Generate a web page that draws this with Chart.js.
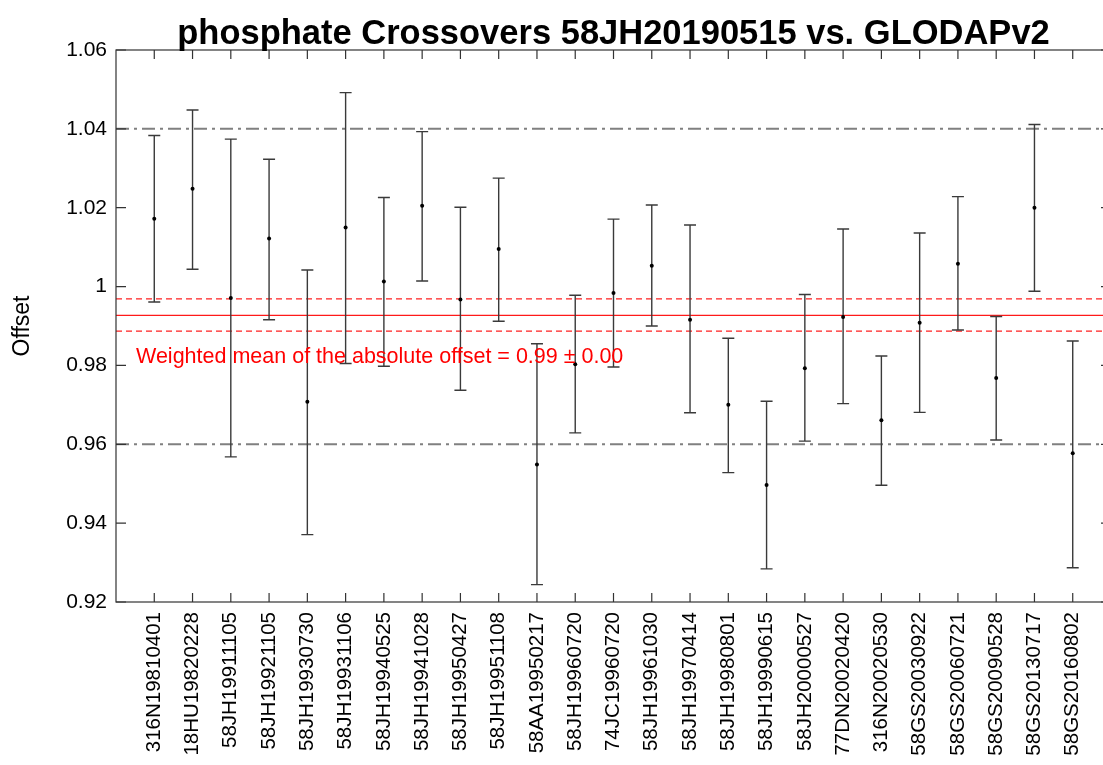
<!DOCTYPE html>
<html>
<head>
<meta charset="utf-8">
<script src="https://cdn.jsdelivr.net/npm/chart.js@4/dist/chart.umd.min.js"></script>
<style>
    html, body { margin: 0; padding: 0; background: #fff; overflow: hidden; }
    #wrap { width: 1115px; height: 765px; position: relative; }
</style>
</head>
<body>
<div id="wrap"><canvas id="crossover-chart"></canvas></div>
<script>
// cruise expocodes along the x axis
const cruises = [
    '316N19810401', '18HU19820228', '58JH19911105', '58JH19921105', '58JH19930730',
    '58JH19931106', '58JH19940525', '58JH19941028', '58JH19950427', '58JH19951108',
    '58AA19950217', '58JH19960720', '74JC19960720', '58JH19961030', '58JH19970414',
    '58JH19980801', '58JH19990615', '58JH20000527', '77DN20020420', '316N20020530',
    '58GS20030922', '58GS20060721', '58GS20090528', '58GS20130717', '58GS20160802'
];
// crossover offsets and the error bar ends
const offsets = [
    1.0172, 1.0248, 0.9971, 1.0122, 0.9708, 1.0150, 1.0013, 1.0205, 0.9967, 1.0095,
    0.9549, 0.9803, 0.9984, 1.0053, 0.9916, 0.9700, 0.9497, 0.9793, 0.9923, 0.9661,
    0.9908, 1.0058, 0.9768, 1.0200, 0.9577
];
const upper = [
    1.0383, 1.0448, 1.0374, 1.0323, 1.0042, 1.0492, 1.0226, 1.0393, 1.0201, 1.0275,
    0.9855, 0.9978, 1.0171, 1.0207, 1.0156, 0.9869, 0.9709, 0.9980, 1.0146, 0.9824,
    1.0136, 1.0228, 0.9924, 1.0411, 0.9862
];
const lower = [
    0.9961, 1.0044, 0.9568, 0.9916, 0.9371, 0.9805, 0.9798, 1.0014, 0.9737, 0.9912,
    0.9244, 0.9629, 0.9796, 0.9900, 0.9680, 0.9528, 0.9284, 0.9608, 0.9703, 0.9496,
    0.9681, 0.9890, 0.9611, 0.9988, 0.9287
];
const weightedMean = 0.9927;
const meanBand = [0.9887, 0.9969];   // mean +/- error
const limits = [0.96, 1.04];         // acceptance limits
const yTicks = [0.92, 0.94, 0.96, 0.98, 1.00, 1.02, 1.04, 1.06];

const FONT = "'Liberation Sans', Arial, Helvetica, sans-serif";
const xMin = 0, xMax = cruises.length + 1;

function hline(value, color, width, dash) {
    return {
        type: 'line',
        data: [{x: xMin, y: value}, {x: xMax, y: value}],
        borderColor: color,
        borderWidth: width,
        borderDash: dash,
        pointRadius: 0,
        order: 1,
    };
}

// draws the error bars just before the points, so the dots sit on top
const errorBars = {
    id: 'errorBars',
    beforeDatasetDraw(chart, args) {
        if (args.index !== 0) return;
        const ctx = chart.ctx, xs = chart.scales.x, ys = chart.scales.y;
        ctx.save();
        ctx.strokeStyle = '#3a3a3a';
        ctx.lineWidth = 1.4;
        cruises.forEach((c, i) => {
            const px = xs.getPixelForValue(i + 1);
            const top = ys.getPixelForValue(upper[i]);
            const bot = ys.getPixelForValue(lower[i]);
            ctx.beginPath();
            ctx.moveTo(px, top); ctx.lineTo(px, bot);
            ctx.moveTo(px - 6, top); ctx.lineTo(px + 6, top);
            ctx.moveTo(px - 6, bot); ctx.lineTo(px + 6, bot);
            ctx.stroke();
        });
        ctx.restore();
    },
};

// frame with inward ticks, title and the mean annotation
const frame = {
    id: 'frame',
    afterDraw(chart) {
        const ctx = chart.ctx, a = chart.chartArea;
        const xs = chart.scales.x, ys = chart.scales.y;
        ctx.save();
        ctx.strokeStyle = '#333';
        ctx.lineWidth = 1.2;
        ctx.strokeRect(a.left, a.top, a.right - a.left, a.bottom - a.top);
        ctx.beginPath();
        cruises.forEach((c, i) => {
            const px = xs.getPixelForValue(i + 1);
            ctx.moveTo(px, a.bottom); ctx.lineTo(px, a.bottom - 9);
            ctx.moveTo(px, a.top); ctx.lineTo(px, a.top + 9);
        });
        yTicks.forEach(v => {
            const py = ys.getPixelForValue(v);
            ctx.moveTo(a.left, py); ctx.lineTo(a.left + 10, py);
            ctx.moveTo(a.right, py); ctx.lineTo(a.right - 10, py);
        });
        ctx.stroke();

        ctx.fillStyle = '#000';
        ctx.font = 'bold 34.5px ' + FONT;
        ctx.textAlign = 'center';
        ctx.textBaseline = 'alphabetic';
        ctx.fillText('phosphate Crossovers 58JH20190515 vs. GLODAPv2', (a.left + a.right) / 2, 44);

        ctx.fillStyle = '#ff0000';
        ctx.font = '21.5px ' + FONT;
        ctx.textAlign = 'left';
        ctx.fillText('Weighted mean of the absolute offset = 0.99 \u00b1 0.00', a.left + 20, 363);
        ctx.restore();
    },
};

const ctx = document.getElementById('crossover-chart');
new Chart(ctx, {
    type: 'scatter',
    data: {
        datasets: [
            {
                label: 'offset',
                data: offsets.map((v, i) => ({x: i + 1, y: v})),
                pointRadius: 2,
                pointBackgroundColor: '#000',
                pointBorderWidth: 0,
                showLine: false,
                order: 0,
            },
            hline(limits[1], '#808080', 2, [13, 5, 3, 5]),
            hline(limits[0], '#808080', 2, [13, 5, 3, 5]),
            hline(meanBand[1], '#ff2020', 1.2, [6, 4]),
            hline(meanBand[0], '#ff2020', 1.2, [6, 4]),
            hline(weightedMean, '#ff1a1a', 1.3, []),
        ],
    },
    plugins: [errorBars, frame],
    options: {
        responsive: true,
        maintainAspectRatio: false,
        animation: false,
        layout: { padding: { top: 50, right: 3 } },
        plugins: {
            legend: { display: false },
            tooltip: { enabled: false },
        },
        scales: {
            x: {
                type: 'linear',
                min: xMin,
                max: xMax,
                afterFit: s => { s.height = 163; },
                afterBuildTicks: s => {
                    s.ticks = cruises.map((c, i) => ({value: i + 1}));
                },
                grid: { display: false, drawTicks: false },
                border: { display: false },
                ticks: {
                    autoSkip: false,
                    minRotation: 90,
                    maxRotation: 90,
                    padding: 10,
                    color: '#000',
                    font: { family: FONT, size: 20.5 },
                    callback: v => cruises[v - 1] || '',
                },
            },
            y: {
                min: 0.92,
                max: 1.06,
                afterFit: s => { s.width = 116; },
                afterBuildTicks: s => {
                    s.ticks = yTicks.map(v => ({value: v}));
                },
                grid: { display: false, drawTicks: false },
                border: { display: false },
                title: {
                    display: true,
                    text: 'Offset',
                    color: '#000',
                    font: { family: FONT, size: 23 },
                    padding: { top: 9, bottom: 0 },
                },
                ticks: {
                    padding: 9,
                    color: '#000',
                    font: { family: FONT, size: 21 },
                    callback: v => String(Number(v.toFixed(2))),
                },
            },
        },
    },
});
</script>
</body>
</html>
